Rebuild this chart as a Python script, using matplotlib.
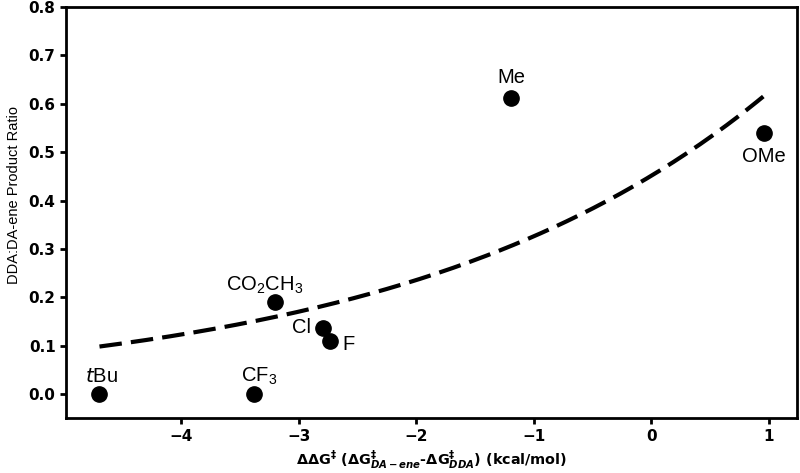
import numpy as np
import matplotlib
matplotlib.use('Agg')
import matplotlib.pyplot as plt

plt.rcParams['mathtext.default'] = 'regular'

# substituents and their data
labels = ['$\\mathit{t}$Bu', 'CF$_3$', 'CO$_2$CH$_3$', 'Cl', 'F', 'Me', 'OMe']
ddg = [-4.695, -3.376, -3.197, -2.795, -2.729, -1.191, 0.957]
ratio = [0.0, 0.0, 0.191, 0.137, 0.110, 0.613, 0.540]

# exponential fit y = a*exp(b*x)
fit_a = 0.451
fit_b = 0.325

# label offsets (points) relative to each marker
offsets = [(1.5, 12.5), (3, 13), (-8, 12), (-15, 0), (13, -3), (0, 14.6), (0, -16.8)]

fig = plt.figure(figsize=(8, 4.73), dpi=100)
ax = fig.add_axes([0.0825, 0.116, 0.9135, 0.869])

xfit = np.linspace(min(ddg), max(ddg), 200)
ax.plot(xfit, fit_a * np.exp(fit_b * xfit), color='black', lw=3,
        linestyle='--', dashes=(5.4, 2.2))
ax.plot(ddg, ratio, 'o', color='black', markersize=11)

for lab, x, y, off in zip(labels, ddg, ratio, offsets):
    ax.annotate(lab, (x, y), xytext=off, textcoords='offset points',
                ha='center', va='center', fontsize=14.5, family='Liberation Sans')

ax.set_ylim(-0.05, 0.8)
ax.set_xlim(-4.98, 1.24)
ax.set_xticks([-4, -3, -2, -1, 0, 1])
ax.set_yticks([0.0, 0.1, 0.2, 0.3, 0.4, 0.5, 0.6, 0.7, 0.8])

for s in ax.spines.values():
    s.set_linewidth(2)
ax.tick_params(width=2, length=4, labelsize=11)
for t in ax.get_xticklabels() + ax.get_yticklabels():
    t.set_fontweight('bold')

ax.set_ylabel('DDA:DA-ene Product Ratio', fontsize=10.5, family='Liberation Sans')
ax.yaxis.set_label_coords(-0.062, 0.543)
ax.set_xlabel('$\\Delta\\Delta G^{\\ddagger}$ ($\\Delta G^{\\ddagger}_{\\mathbfit{DA-ene}}$'
              '-$\\Delta G^{\\ddagger}_{\\mathbfit{DDA}}$) (kcal/mol)',
              fontsize=10.4, fontweight='bold')

plt.savefig('out.png', dpi=100)
